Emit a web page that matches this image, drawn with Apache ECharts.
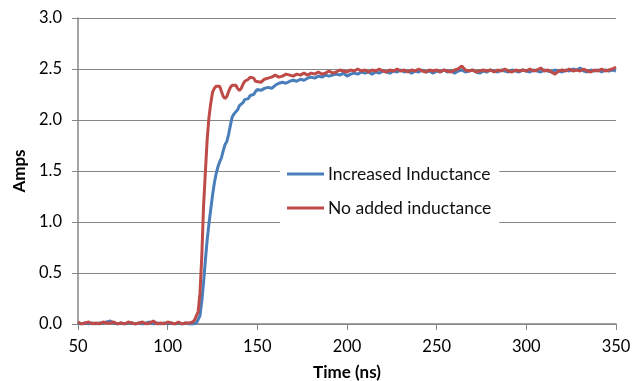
<!DOCTYPE html>
<html>
<head>
<meta charset="utf-8">
<script src="https://cdn.jsdelivr.net/npm/echarts@6/dist/echarts.min.js"></script>
<style>
  html, body { margin: 0; padding: 0; background: #fff; }
  #graph { width: 639px; height: 381px; }
</style>
</head>
<body>
<div id="graph"></div>
<script>
"use strict"

const seriesNames = ["Increased Inductance", "No added inductance"];

// time axis in ns (2 ns steps, 1 ns through the rising edge)
const timeNs = [
    50, 52, 54, 56, 58, 60, 62, 64, 66, 68, 70, 72, 74, 76, 78, 80, 82, 84, 86, 88,
    90, 92, 94, 96, 98, 100, 102, 104, 106, 108, 110, 112, 114,
    115, 116, 117, 118, 119, 120, 121, 122, 123, 124, 125, 126, 127, 128, 129, 130,
    131, 132, 133, 134, 135, 136, 137, 138, 139, 140, 141, 142, 143, 144, 145, 146,
    147, 148, 149, 150,
    152, 154, 156, 158, 160, 162, 164, 166, 168, 170, 172, 174, 176, 178, 180, 182,
    184, 186, 188, 190, 192, 194, 196, 198, 200, 202, 204, 206, 208, 210, 212, 214,
    216, 218, 220, 222, 224, 226, 228, 230, 232, 234, 236, 238, 240, 242, 244, 246,
    248, 250, 252, 254, 256, 258, 260, 262, 264, 266, 268, 270, 272, 274, 276, 278,
    280, 282, 284, 286, 288, 290, 292, 294, 296, 298, 300, 302, 304, 306, 308, 310,
    312, 314, 316, 318, 320, 322, 324, 326, 328, 330, 332, 334, 336, 338, 340, 342,
    344, 346, 348, 350
];

const blueAmps = [
    0.01, 0.00, 0.01, 0.00, 0.01, 0.00, 0.01, 0.01, 0.02, 0.03, 0.01, 0.00, 0.01, 0.00, 0.01, 0.01, 0.00, 0.01, 0.00, 0.01,
    0.02, 0.00, 0.01, 0.00, 0.01, 0.00, 0.01, 0.00, 0.01, 0.00, 0.01, 0.00, 0.00,
    0.00, 0.01, 0.02, 0.08, 0.22, 0.40, 0.62, 0.82, 0.98, 1.12, 1.26, 1.38, 1.47, 1.54, 1.59, 1.63,
    1.70, 1.76, 1.79, 1.86, 1.95, 2.03, 2.06, 2.07, 2.10, 2.14, 2.15, 2.17, 2.20, 2.19, 2.21, 2.24,
    2.25, 2.25, 2.28, 2.30,
    2.29, 2.31, 2.32, 2.31, 2.34, 2.36, 2.37, 2.36, 2.38, 2.39, 2.38, 2.40, 2.39, 2.41, 2.42, 2.41,
    2.43, 2.42, 2.44, 2.43, 2.44, 2.45, 2.44, 2.46, 2.43, 2.45, 2.46, 2.45, 2.47, 2.46, 2.47, 2.45,
    2.47, 2.46, 2.48, 2.47, 2.46, 2.48, 2.47, 2.49, 2.47, 2.48, 2.46, 2.48, 2.47, 2.49, 2.47, 2.48,
    2.46, 2.48, 2.47, 2.49, 2.47, 2.48, 2.46, 2.48, 2.49, 2.47, 2.48, 2.49, 2.47, 2.46, 2.48, 2.47,
    2.49, 2.48, 2.47, 2.49, 2.48, 2.47, 2.49, 2.48, 2.47, 2.49, 2.48, 2.47, 2.49, 2.48, 2.47, 2.49,
    2.48, 2.47, 2.49, 2.48, 2.47, 2.49, 2.48, 2.50, 2.49, 2.51, 2.48, 2.47, 2.49, 2.48, 2.49, 2.47,
    2.49, 2.48, 2.49, 2.48
];

const redAmps = [
    0.02, 0.00, 0.01, 0.02, 0.00, 0.01, 0.00, 0.02, 0.01, 0.01, 0.02, 0.00, 0.01, 0.00, 0.02, 0.01, 0.00, 0.01, 0.02, 0.00,
    0.01, 0.03, 0.00, 0.01, 0.00, 0.02, 0.01, 0.00, 0.02, 0.00, 0.01, 0.01, 0.02,
    0.04, 0.08, 0.12, 0.30, 0.65, 1.15, 1.48, 1.80, 2.02, 2.16, 2.27, 2.31, 2.33, 2.34, 2.33, 2.28,
    2.23, 2.21, 2.23, 2.28, 2.32, 2.34, 2.35, 2.34, 2.31, 2.29, 2.31, 2.35, 2.38, 2.37, 2.40, 2.42,
    2.43, 2.41, 2.38, 2.37,
    2.37, 2.40, 2.41, 2.42, 2.44, 2.42, 2.43, 2.45, 2.44, 2.43, 2.45, 2.44, 2.46, 2.44, 2.46, 2.45,
    2.47, 2.45, 2.46, 2.48, 2.46, 2.47, 2.49, 2.48, 2.47, 2.49, 2.48, 2.50, 2.48, 2.49, 2.47, 2.49,
    2.48, 2.50, 2.48, 2.47, 2.49, 2.48, 2.50, 2.48, 2.49, 2.47, 2.49, 2.48, 2.50, 2.48, 2.47, 2.49,
    2.48, 2.49, 2.47, 2.49, 2.48, 2.47, 2.49, 2.50, 2.53, 2.49, 2.48, 2.49, 2.47, 2.48, 2.49, 2.48,
    2.49, 2.47, 2.49, 2.48, 2.50, 2.48, 2.47, 2.49, 2.48, 2.49, 2.48, 2.50, 2.48, 2.49, 2.51, 2.48,
    2.49, 2.47, 2.45, 2.48, 2.49, 2.48, 2.50, 2.48, 2.49, 2.48, 2.50, 2.48, 2.47, 2.49, 2.48, 2.50,
    2.48, 2.49, 2.50, 2.52
];

const xTicks = [50, 100, 150, 200, 250, 300, 350];
const yTicks = [0.0, 0.5, 1.0, 1.5, 2.0, 2.5, 3.0];

const font = "Lato, 'Open Sans', sans-serif";
const axisGray = "#868686";

const pairs = vals => timeNs.map((t, i) => [t, vals[i]]);

const myChart = echarts.init(document.getElementById("graph"), null, { renderer: "canvas" });

myChart.setOption({
    animation: false,
    color: ["#4A7EBB", "#BE4B48"],
    textStyle: { fontFamily: font },
    grid: { left: 78, right: 23, top: 18, bottom: 57, containLabel: false, outerBoundsMode: "none" },
    legend: {
        data: seriesNames,
        orient: "vertical",
        left: 280,
        top: 156,
        padding: [9, 8, 14, 7],
        backgroundColor: "#fff",
        icon: "rect",
        itemWidth: 37,
        itemHeight: 3,
        itemGap: 16,
        textStyle: { fontFamily: font, fontSize: 17.5, color: "#111", padding: [0, 0, 0, -1] }
    },
    xAxis: {
        type: "value",
        min: xTicks[0],
        max: xTicks[xTicks.length - 1],
        interval: 50,
        name: "Time (ns)",
        nameLocation: "middle",
        nameGap: 40,
        nameTextStyle: { fontFamily: font, fontSize: 17, fontWeight: "bold", color: "#000" },
        axisLine: { lineStyle: { color: axisGray, width: 1.5 } },
        axisTick: { show: true, length: 6, lineStyle: { color: axisGray } },
        axisLabel: { fontFamily: font, fontSize: 16.5, color: "#000", margin: 14 },
        splitLine: { show: false }
    },
    yAxis: {
        type: "value",
        min: yTicks[0],
        max: yTicks[yTicks.length - 1],
        interval: 0.5,
        name: "Amps",
        nameLocation: "middle",
        nameRotate: 90,
        nameGap: 46,
        nameTextStyle: { fontFamily: font, fontSize: 17, fontWeight: "bold", color: "#000" },
        axisLine: { show: true, lineStyle: { color: axisGray, width: 1.5 } },
        axisTick: { show: true, length: 6, lineStyle: { color: axisGray } },
        axisLabel: { fontFamily: font, fontSize: 16.5, color: "#000", margin: 16, formatter: v => v.toFixed(1) },
        splitLine: { show: true, lineStyle: { color: axisGray, width: 1 } }
    },
    series: [
        {
            name: seriesNames[0], type: "line", data: pairs(blueAmps),
            symbol: "none", lineStyle: { width: 3 }, z: 2
        },
        {
            name: seriesNames[1], type: "line", data: pairs(redAmps),
            symbol: "none", lineStyle: { width: 3 }, z: 3
        }
    ]
});
</script>
</body>
</html>
